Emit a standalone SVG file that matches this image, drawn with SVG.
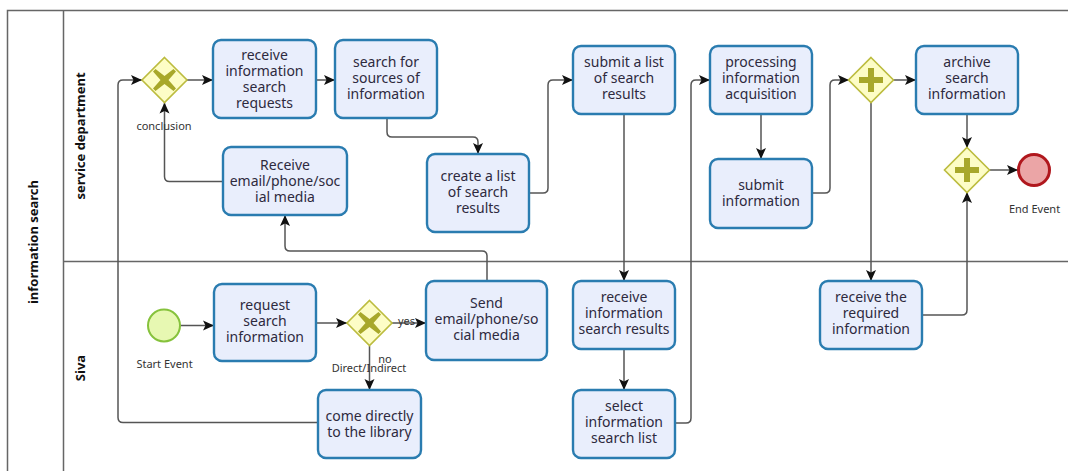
<svg xmlns="http://www.w3.org/2000/svg" width="1068" height="471" viewBox="0 0 1068 471">
<style>
text{font-family:"Noto Sans","Open Sans","DejaVu Sans",sans-serif;fill:#2e2a3e}
.task rect{fill:#e9eefc;stroke:#2a7cb0;stroke-width:2.4}
.task text{font-size:14px;text-anchor:middle}
.gw polygon{fill:#fdfdc6;stroke:#bcbc3e;stroke-width:1.6}
.mk{fill:#a8a82a}
.lbl{font-size:11px;text-anchor:middle;fill:#333}
.conn path{fill:none;stroke:#555;stroke-width:1.5;marker-end:url(#arr)}
.pool{stroke:#666;stroke-width:1.5;fill:none}
.head{font-size:13px;font-weight:bold;text-anchor:middle;fill:#111}
</style>
<defs>
<marker id="arr" markerUnits="userSpaceOnUse" markerWidth="12" markerHeight="12" viewBox="0 0 12 12" refX="11" refY="6" orient="auto">
<path d="M0,1 L11,6 L0,11 L2.5,6 Z" fill="#111"/>
</marker>
</defs>
<rect width="1068" height="471" fill="#fff"/>
<g id="pool">
<path class="pool" d="M1070,10.5 H7.5 V473 M63.5,10.5 V473 M63.5,261.5 H1070"/>
<text class="head" transform="translate(38,242) rotate(-90)">information search</text>
<text class="head" transform="translate(85,136) rotate(-90)">service department</text>
<text class="head" transform="translate(85,368) rotate(-90)">Siva</text>
</g>
<g class="conn" id="connectors">
<path d="M180,325.5 H214"/>
<path d="M316,323 H347"/>
<path d="M392,323 H426"/>
<path d="M369.5,346 V390"/>
<path d="M318,422.5 H123 Q118,422.5 118,417.5 V85 Q118,80 123,80 H142"/>
<path d="M487,281 V256 Q487,251 482,251 H290 Q285,251 285,246 V215"/>
<path d="M223,181.5 H169.5 Q164.5,181.5 164.5,176.5 V102.5"/>
<path d="M187,80 H213"/>
<path d="M316,80 H335"/>
<path d="M387,118 V132 Q387,137 392,137 H473 Q478,137 478,142 V154"/>
<path d="M529,193 H543 Q548,193 548,188 V85 Q548,80 553,80 H573"/>
<path d="M624,114 V281"/>
<path d="M624,349 V390"/>
<path d="M675,423 H686 Q691,423 691,418 V85 Q691,80 696,80 H710"/>
<path d="M761,114 V159"/>
<path d="M812,193 H825 Q830,193 830,188 V85 Q830,80 835,80 H849"/>
<path d="M893,80 H916"/>
<path d="M871,102 V281"/>
<path d="M922,315 H962 Q967,315 967,310 V192"/>
<path d="M967,114 V148"/>
<path d="M989,170 H1018"/>
</g>
<g id="labels">
<text class="lbl" x="164" y="129.5">conclusion</text>
<text class="lbl" x="406.5" y="324.5">yes</text>
<text class="lbl" x="385" y="363">no</text>
<text class="lbl" x="369" y="371.5">Direct/Indirect</text>
</g>
<g id="start">
<circle cx="164" cy="325.5" r="16" fill="#e7f8b2" stroke="#86c23c" stroke-width="2"/>
<text class="lbl" x="164.5" y="368">Start Event</text>
</g>
<g id="end">
<circle cx="1034" cy="170" r="15.5" fill="#eba5a6" stroke="#b0171d" stroke-width="3"/>
<text class="lbl" x="1034.5" y="212.5">End Event</text>
</g>
<g id="gwConclusion" class="gw">
<polygon points="164.5,57.5 187,80 164.5,102.5 142,80"/>
<path class="mk" d="M155.5,69 L164.5,76 L173.5,69 L176,71.5 L168.5,80 L176,88.5 L173.5,91 L164.5,84 L155.5,91 L153,88.5 L160.5,80 L153,71.5 Z"/>
</g>
<g id="gwDirect" class="gw">
<polygon points="369.5,300.5 392,323 369.5,345.5 347,323"/>
<path class="mk" d="M360.5,312 L369.5,319 L378.5,312 L381,314.5 L373.5,323 L381,331.5 L378.5,334 L369.5,327 L360.5,334 L358,331.5 L365.5,323 L358,314.5 Z"/>
</g>
<g id="gwFork" class="gw">
<polygon points="871,57.5 893.5,80 871,102.5 848.5,80"/>
<path class="mk" d="M868,68 H874 V77 H883 V83 H874 V92 H868 V83 H859 V77 H868 Z"/>
</g>
<g id="gwJoin" class="gw">
<polygon points="967,147.5 989.5,170 967,192.5 944.5,170"/>
<path class="mk" d="M964,158 H970 V167 H979 V173 H970 V182 H964 V173 H955 V167 H964 Z"/>
</g>
<g id="tReceiveRequests" class="task"><rect x="213" y="40" width="103" height="78" rx="8"/>
<text x="264.5" y="60">receive<tspan x="264.5" dy="16">information</tspan><tspan x="264.5" dy="16">search</tspan><tspan x="264.5" dy="16">requests</tspan></text></g>
<g id="tSearchSources" class="task"><rect x="335" y="40" width="102" height="78" rx="8"/>
<text x="386" y="67">search for<tspan x="386" dy="16">sources of</tspan><tspan x="386" dy="16">information</tspan></text></g>
<g id="tReceiveEmail" class="task"><rect x="223" y="147" width="124" height="68" rx="8"/>
<text x="285" y="170">Receive<tspan x="285" dy="16">email/phone/soc</tspan><tspan x="285" dy="16">ial media</tspan></text></g>
<g id="tCreateList" class="task"><rect x="427" y="154" width="102" height="78" rx="8"/>
<text x="478" y="181">create a list<tspan x="478" dy="16">of search</tspan><tspan x="478" dy="16">results</tspan></text></g>
<g id="tSubmitList" class="task"><rect x="573" y="46" width="102" height="68" rx="8"/>
<text x="624" y="67">submit a list<tspan x="624" dy="16">of search</tspan><tspan x="624" dy="16">results</tspan></text></g>
<g id="tProcessing" class="task"><rect x="710" y="46" width="102" height="68" rx="8"/>
<text x="761" y="67">processing<tspan x="761" dy="16">information</tspan><tspan x="761" dy="16">acquisition</tspan></text></g>
<g id="tArchive" class="task"><rect x="916" y="46" width="102" height="68" rx="8"/>
<text x="967" y="67">archive<tspan x="967" dy="16">search</tspan><tspan x="967" dy="16">information</tspan></text></g>
<g id="tSubmitInfo" class="task"><rect x="710" y="159" width="102" height="69" rx="8"/>
<text x="761" y="190">submit<tspan x="761" dy="16">information</tspan></text></g>
<g id="tRequest" class="task"><rect x="214" y="284" width="102" height="77" rx="8"/>
<text x="265" y="310">request<tspan x="265" dy="16">search</tspan><tspan x="265" dy="16">information</tspan></text></g>
<g id="tSend" class="task"><rect x="426" y="281" width="121" height="79" rx="8"/>
<text x="486.5" y="308">Send<tspan x="486.5" dy="16">email/phone/so</tspan><tspan x="486.5" dy="16">cial media</tspan></text></g>
<g id="tComeDirectly" class="task"><rect x="318" y="390" width="103" height="68" rx="8"/>
<text x="369.5" y="421">come directly<tspan x="369.5" dy="16">to the library</tspan></text></g>
<g id="tReceiveResults" class="task"><rect x="573" y="281" width="102" height="68" rx="8"/>
<text x="624" y="302">receive<tspan x="624" dy="16">information</tspan><tspan x="624" dy="16">search results</tspan></text></g>
<g id="tSelect" class="task"><rect x="573" y="390" width="102" height="68" rx="8"/>
<text x="624" y="411">select<tspan x="624" dy="16">information</tspan><tspan x="624" dy="16">search list</tspan></text></g>
<g id="tReceiveRequired" class="task"><rect x="820" y="281" width="102" height="68" rx="8"/>
<text x="871" y="302">receive the<tspan x="871" dy="16">required</tspan><tspan x="871" dy="16">information</tspan></text></g>
</svg>
